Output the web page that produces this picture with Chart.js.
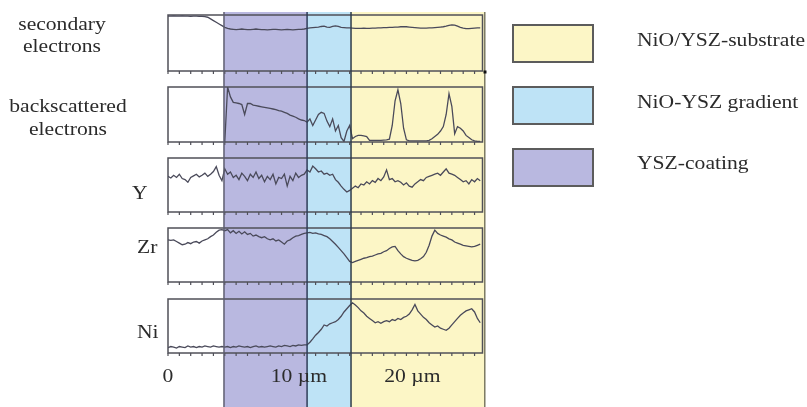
<!DOCTYPE html>
<html><head><meta charset="utf-8">
<script src="https://cdn.jsdelivr.net/npm/chart.js@4.4.1/dist/chart.umd.min.js"></script>
<style>html,body{margin:0;padding:0;background:#fff;} #wrap{width:807px;height:407px;}</style>
</head><body><div id="wrap"><canvas id="c" width="807" height="407"></canvas></div>
<script>
// ---- sample positions along the line scan (µm) ----
const positionsUm = [0,0.25,0.5,0.75,1,1.25,1.5,1.75,2,2.25,2.5,2.75,3,3.25,3.5,3.75,4,4.25,4.5,4.75,
5,5.25,5.5,5.75,6,6.25,6.5,6.75,7,7.25,7.5,7.75,8,8.25,8.5,8.75,9,9.25,9.5,9.75,
10,10.25,10.5,10.75,11,11.25,11.5,11.75,12,12.25,12.5,12.75,13,13.25,13.5,13.75,14,14.25,14.5,14.75,
15,15.25,15.5,15.75,16,16.25,16.5,16.75,17,17.25,17.5,17.75,18,18.25,18.5,18.75,19,19.25,19.5,19.75,
20,20.25,20.5,20.75,21,21.25,21.5,21.75,22,22.25,22.5,22.75,23,23.25,23.5,23.75,24,24.25,24.5,24.75,
25,25.25,25.5,25.75,26,26.25,26.5,26.75,27,27.25,27.5];

// ---- signals, % of each panel's height ----
const secondaryElectrons = [98,98,98.5,98,98,98.5,98,98,97.5,98,98,97.5,97.5,97,
96,93,90,87,84,81,78,76,75,
74.5,74,74.5,75,74.5,74,74,74.5,75,74.5,74,74,73.5,74,74.5,74.5,74,73.5,74,74.5,74,73.5,74,74.5,74.5,
75,76,77,77.5,78,78.5,79.5,80,78.5,78,79.5,80.5,79.5,78,77.5,77,77,
76.5,76,76,76,76.5,76,76,76.5,
76.5,77,77,77.5,77.5,78,78,78.5,78.5,79,79,79,78.5,
78,77.5,77,76.5,76.5,76.5,77,
77,77.5,78,78.5,79,80,
81.5,82.5,82,
80,78,76.5,
75.5,75.5,76,
76.5,77,77];

const backscatteredElectrons = [null,null,null,null,null,null,null,null,null,null,null,null,null,null,null,null,null,null,null,null,
0,100,82,72,71,70,68,50,70,70,67,66,65,64,63,62,61,60,59,57,56,54,52,49,47,45,42,40,39,
36,42,30,40,50,54,52,38,28,42,20,30,8,1,20,30,
6,10,12,12,11,10,3,3,3,3,3,3.5,4,5,
30,75,95,70,25,4,
2,2,2,2,2,2,2,3,
6,10,14,20,28,50,88,65,15,
28,25,20,12,8,4,2,1,1];

const yttrium = [66,63,68,64,70,62,60,55,64,67,
70,65,68,72,66,70,75,84,68,58,
80,70,74,64,68,60,72,66,58,70,
64,74,62,68,56,66,60,70,52,64,
62,70,48,66,58,72,64,68,70,
78,74,85,80,74,76,70,72,
68,70,60,55,48,42,37,
40,44,48,45,52,50,56,
52,58,55,62,58,65,78,60,62,56,
58,55,50,54,48,46,52,56,60,58,
64,66,68,70,72,68,74,80,72,70,
68,64,60,56,58,52,60,56,62,58];

const zirconium = [78,77,78,75,72,69,70,73,71,74,75,72,76,78,80,84,87,92,96,97,
95,97,91,95,90,94,89,93,88,90,85,87,84,82,84,80,78,80,76,78,74,70,76,78,82,85,86,88,90,
91,92,90,91,89,88,86,84,80,75,70,64,58,52,45,38,
36,38,40,42,44,45,47,48,50,52,53,56,58,62,65,66,
58,52,47,44,42,40,39,40,43,47,
55,68,85,96,90,87,85,83,80,78,
74,72,70,68,67,66,65,66,68,70];

const nickel = [10,12,11,9,12,11,10,13,11,12,10,12,11,13,12,11,13,12,11,12,
11,12,10,12,11,13,12,11,12,10,12,13,11,12,11,12,13,12,11,13,12,14,13,12,14,13,15,14,15,
15,20,26,33,38,44,52,50,54,56,58,62,68,76,82,88,
93,89,84,78,74,68,64,60,56,58,55,58,60,58,62,60,
64,62,66,68,72,80,90,78,72,66,
62,56,52,48,50,46,44,42,46,52,
58,64,70,74,78,80,82,76,64,56];

// ---- regions ----
const bandNames = ['YSZ-coating', 'NiO-YSZ gradient', 'NiO/YSZ-substrate'];
const bandStartUm = [4.93, 12.25, 16.12];
const bandEndUm = [12.25, 16.12, 27.9];

// ---- labels ----
const panelLabels = [['secondary', 'electrons'], ['backscattered', 'electrons'], ['Y'], ['Zr'], ['Ni']];
const xTickValues = [0, 10, 20];
const xTickLabels = ['0', '10 µm', '20 µm'];

// ---------------- styling / layout ----------------
const bandFill = ['#b9b8e0', '#bee3f6', '#fcf6c6'];
const bandEdge = ['#5e5e70', '#2e3d58', '#2f3b48', '#7c7a62'];
const FONT = '18px "Liberation Serif", "Times New Roman", serif';
const SX = 1.2;
const TEXT = '#2b2b2b';

const stackRows = [
  {id: 'gTop', w: 3}, {id: 'p1', w: 56}, {id: 'g1', w: 16}, {id: 'p2', w: 55}, {id: 'g2', w: 16},
  {id: 'p3', w: 54}, {id: 'g3', w: 16}, {id: 'p4', w: 54}, {id: 'g4', w: 17}, {id: 'p5', w: 54}, {id: 'gBot', w: 54}
];
const panelIds = ['p1', 'p2', 'p3', 'p4', 'p5'];
const labelPlace = [
  {x: 62, align: 'center', dy: [15, 37]},
  {x: 68, align: 'center', dy: [25, 48]},
  {x: 132, align: 'left', dy: [41]},
  {x: 137, align: 'left', dy: [25]},
  {x: 137, align: 'left', dy: [39]}
];

const scales = {x: {type: 'linear', min: 0, max: 27.7, display: false}};
stackRows.forEach((r, k) => {
  scales[r.id] = {type: 'linear', position: 'left', display: false, stack: 'rows',
    stackWeight: r.w, weight: stackRows.length - k, min: 0, max: 100};
});

const seriesList = [secondaryElectrons, backscatteredElectrons, yttrium, zirconium, nickel];
const datasets = seriesList.map((s, k) => ({
  data: positionsUm.map((x, i) => ({x: x, y: s[i]})),
  yAxisID: panelIds[k],
  borderColor: '#4a4a5a',
  borderWidth: 1.3,
  pointRadius: 0,
  tension: 0,
  fill: false
}));

function sText(ctx, txt, x, y, align) {
  ctx.save();
  ctx.translate(x, y);
  ctx.scale(SX, 1);
  ctx.textAlign = align;
  ctx.textBaseline = 'alphabetic';
  ctx.fillText(txt, 0, 0);
  ctx.restore();
}

const sketch = {
  id: 'sketch',
  beforeDatasetsDraw(chart) {
    const ctx = chart.ctx, xs = chart.scales.x;
    const top = chart.chartArea.top, bottom = chart.height;
    ctx.save();
    bandStartUm.forEach((b, k) => {
      const x0 = xs.getPixelForValue(b), x1 = xs.getPixelForValue(bandEndUm[k]);
      ctx.fillStyle = bandFill[k];
      ctx.fillRect(x0, top, x1 - x0, bottom - top);
    });
    // panel frames
    ctx.strokeStyle = '#505058';
    ctx.lineWidth = 1.5;
    panelIds.forEach(id => {
      const s = chart.scales[id];
      ctx.strokeRect(xs.left, s.top, xs.right - xs.left, s.bottom - s.top);
      ctx.beginPath();
      for (let v = 0; v <= xs.max; v += 1) {
        const px = xs.getPixelForValue(v);
        ctx.moveTo(px, s.bottom);
        ctx.lineTo(px, s.bottom + 3);
      }
      ctx.lineWidth = 1.2;
      ctx.stroke();
      ctx.lineWidth = 1.5;
    });
    ctx.restore();
  },
  afterDatasetsDraw(chart) {
    const ctx = chart.ctx, xs = chart.scales.x;
    const top = chart.chartArea.top, bottom = chart.height;
    ctx.save();
    const edges = bandStartUm.concat([bandEndUm[bandEndUm.length - 1]]);
    edges.forEach((e, k) => {
      const px = xs.getPixelForValue(e);
      ctx.strokeStyle = bandEdge[k];
      ctx.lineWidth = 1.5;
      ctx.beginPath();
      ctx.moveTo(px, top);
      ctx.lineTo(px, bottom);
      ctx.stroke();
    });
    const p1 = chart.scales.p1;
    ctx.fillStyle = '#111';
    ctx.fillRect(xs.right + 1, p1.bottom - 0.5, 3, 3);

    // text
    ctx.fillStyle = TEXT;
    ctx.font = FONT;
    panelIds.forEach((id, k) => {
      const s = chart.scales[id];
      const lp = labelPlace[k];
      panelLabels[k].forEach((line, j) => sText(ctx, line, lp.x, s.top + lp.dy[j], lp.align));
    });
    // x ticks: number centred on its tick
    const tickBase = chart.scales.p5.bottom + 29;
    xTickValues.forEach((v, k) => {
      const px = xs.getPixelForValue(v);
      const numW = ctx.measureText(String(v)).width * SX;
      sText(ctx, xTickLabels[k], px - numW / 2, tickBase, 'left');
    });
    // legend (top = substrate)
    const legendTop = [25, 87, 149];
    const legendBase = [46, 108, 169];
    for (let j = 0; j < bandNames.length; j++) {
      const k = bandNames.length - 1 - j;
      ctx.fillStyle = bandFill[k];
      ctx.fillRect(513, legendTop[j], 80, 37);
      ctx.strokeStyle = '#5c5c5c';
      ctx.lineWidth = 2;
      ctx.strokeRect(513, legendTop[j], 80, 37);
      ctx.fillStyle = TEXT;
      sText(ctx, bandNames[k], 637, legendBase[j], 'left');
    }
    ctx.restore();
  }
};

new Chart(document.getElementById('c'), {
  type: 'line',
  data: {datasets: datasets},
  options: {
    responsive: false,
    animation: false,
    devicePixelRatio: 1,
    layout: {padding: {left: 168, right: 324.5, top: 12, bottom: 0}},
    plugins: {legend: {display: false}, tooltip: {enabled: false}},
    scales: scales
  },
  plugins: [sketch]
});
</script>
</body></html>
